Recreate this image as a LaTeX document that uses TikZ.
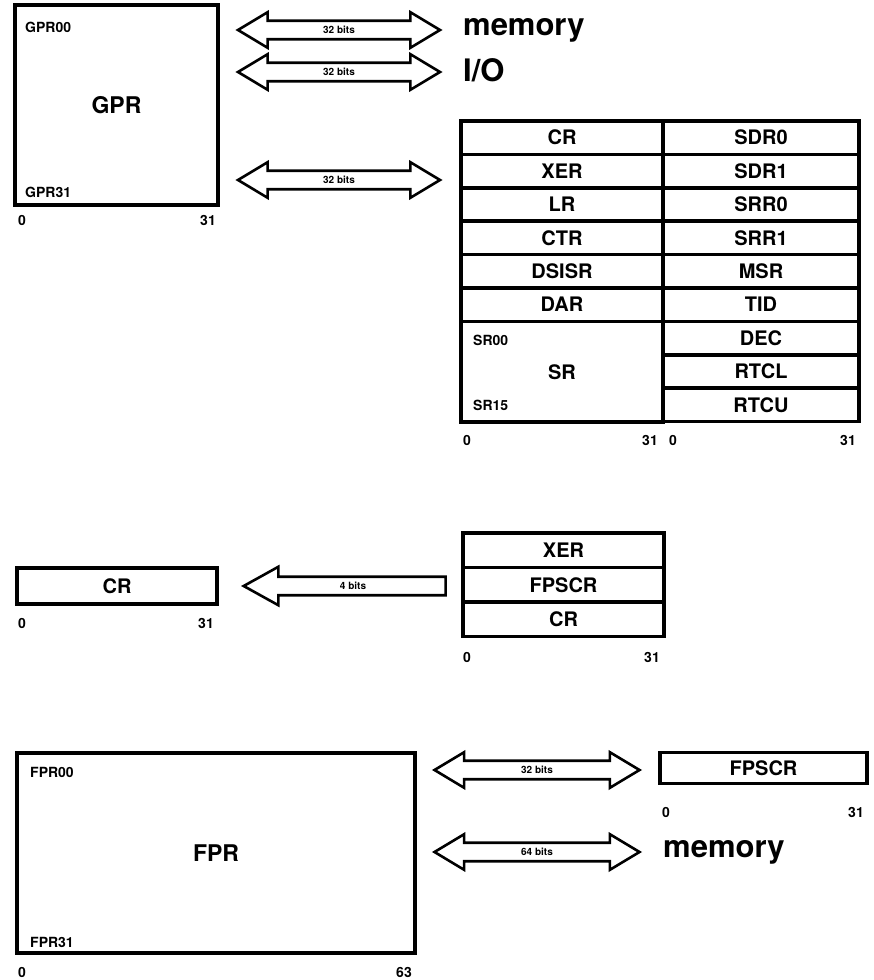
\documentclass[tikz,border=0pt]{standalone}
\usepackage{fontspec}
\setmainfont{TeX Gyre Heros}
\usetikzlibrary{shapes.arrows}
\tikzset{
  regbox/.style={draw, line width=3.5pt, inner sep=0pt, font=\fontsize{20}{20}\selectfont\bfseries},
  bigbox/.style={draw, line width=3.5pt, inner sep=0pt, font=\fontsize{23}{23}\selectfont\bfseries},
  regtag/.style={anchor=west, inner sep=0pt, font=\fontsize{14}{14}\selectfont\bfseries},
  bitnum/.style={inner sep=0pt, font=\fontsize{14}{14}\selectfont\bfseries},
  bus/.style={double arrow, draw, line width=2.6pt, inner sep=4.2pt, double arrow head extend=8.5pt,
    double arrow tip angle=62, minimum height=202pt, font=\fontsize{10}{10}\selectfont\bfseries},
  destlbl/.style={anchor=west, inner sep=0pt, font=\fontsize{31}{31}\selectfont\bfseries}
}
\begin{document}
\begin{tikzpicture}[x=1pt, y=-1pt]
  \useasboundingbox (0,0) rectangle (874,980);
  % general purpose registers
  \node[bigbox, minimum width=203pt, minimum height=200pt] (gpr) at (116.5,105) {GPR};
  \node[regtag] (gpr00) at (25,27) {GPR00};
  \node[regtag] (gpr31) at (25,192) {GPR31};
  \node[bitnum, anchor=west] (gprlo) at (18,220) {0};
  \node[bitnum, anchor=east] (gprhi) at (216,220) {31};
  % buses
  \node[bus] (busmem) at (339,30) {32 bits};
  \node[bus] (busio) at (339,72) {32 bits};
  \node[bus] (busspr) at (339,180) {32 bits};
  \node[destlbl] (mem) at (463,30) {memory};
  \node[destlbl] (io) at (463,70) {I/O};
  % special purpose registers
  \foreach \name [count=\i from 0] in {CR,XER,LR,CTR,DSISR,DAR}
    \node[regbox, minimum width=202pt, minimum height=33.4pt] (spl\i) at (562,{137.7+33.4*\i}) {\name};
  \node[regbox, minimum width=202pt, minimum height=100.3pt] (sr) at (562,371.8) {SR};
  \node[regtag] (sr00) at (473,340) {SR00};
  \node[regtag] (sr15) at (473,405) {SR15};
  \foreach \name [count=\i from 0] in {SDR0,SDR1,SRR0,SRR1,MSR,TID,DEC,RTCL,RTCU}
    \node[regbox, minimum width=196pt, minimum height=33.4pt] (spr\i) at (761,{137.7+33.4*\i}) {\name};
  \node[bitnum, anchor=west] (splo) at (463,440) {0};
  \node[bitnum, anchor=east] (sphi) at (658,440) {31};
  \node[bitnum, anchor=west] (sprlo) at (669,440) {0};
  \node[bitnum, anchor=east] (sprhi) at (856,440) {31};
  % condition register
  \node[regbox, minimum width=200pt, minimum height=36pt] (cr) at (117,586) {CR};
  \node[bitnum, anchor=west] (crlo) at (18,623) {0};
  \node[bitnum, anchor=east] (crhi) at (214,623) {31};
  \node[single arrow, draw, line width=2.6pt, inner sep=4.2pt, single arrow head extend=10pt,
    single arrow tip angle=58, shape border rotate=180, minimum height=202pt, anchor=tip,
    font=\fontsize{10}{10}\selectfont\bfseries] (crbus) at (241,586) {4 bits};
  \foreach \name [count=\i from 0] in {XER,FPSCR,CR}
    \node[regbox, minimum width=201pt, minimum height=34.5pt] (fx\i) at (563.5,{550.3+34.5*\i}) {\name};
  \node[bitnum, anchor=west] (fxlo) at (463,657) {0};
  \node[bitnum, anchor=east] (fxhi) at (660,657) {31};
  % floating point registers
  \node[bigbox, minimum width=398pt, minimum height=200pt] (fpr) at (216,853) {FPR};
  \node[regtag] (fpr00) at (30,772) {FPR00};
  \node[regtag] (fpr31) at (30,942) {FPR31};
  \node[bitnum, anchor=west] (fprlo) at (18,972) {0};
  \node[bitnum, anchor=east] (fprhi) at (412,972) {63};
  \node[bus, minimum height=205pt] (busfpscr) at (537,770) {32 bits};
  \node[bus, minimum height=205pt] (busfmem) at (537,852) {64 bits};
  \node[regbox, minimum width=207pt, minimum height=31pt] (fpscr) at (763.5,768) {FPSCR};
  \node[bitnum, anchor=west] (fpscrlo) at (662,812) {0};
  \node[bitnum, anchor=east] (fpscrhi) at (864,812) {31};
  \node[destlbl] (fmem) at (663,852) {memory};
\end{tikzpicture}
\end{document}
